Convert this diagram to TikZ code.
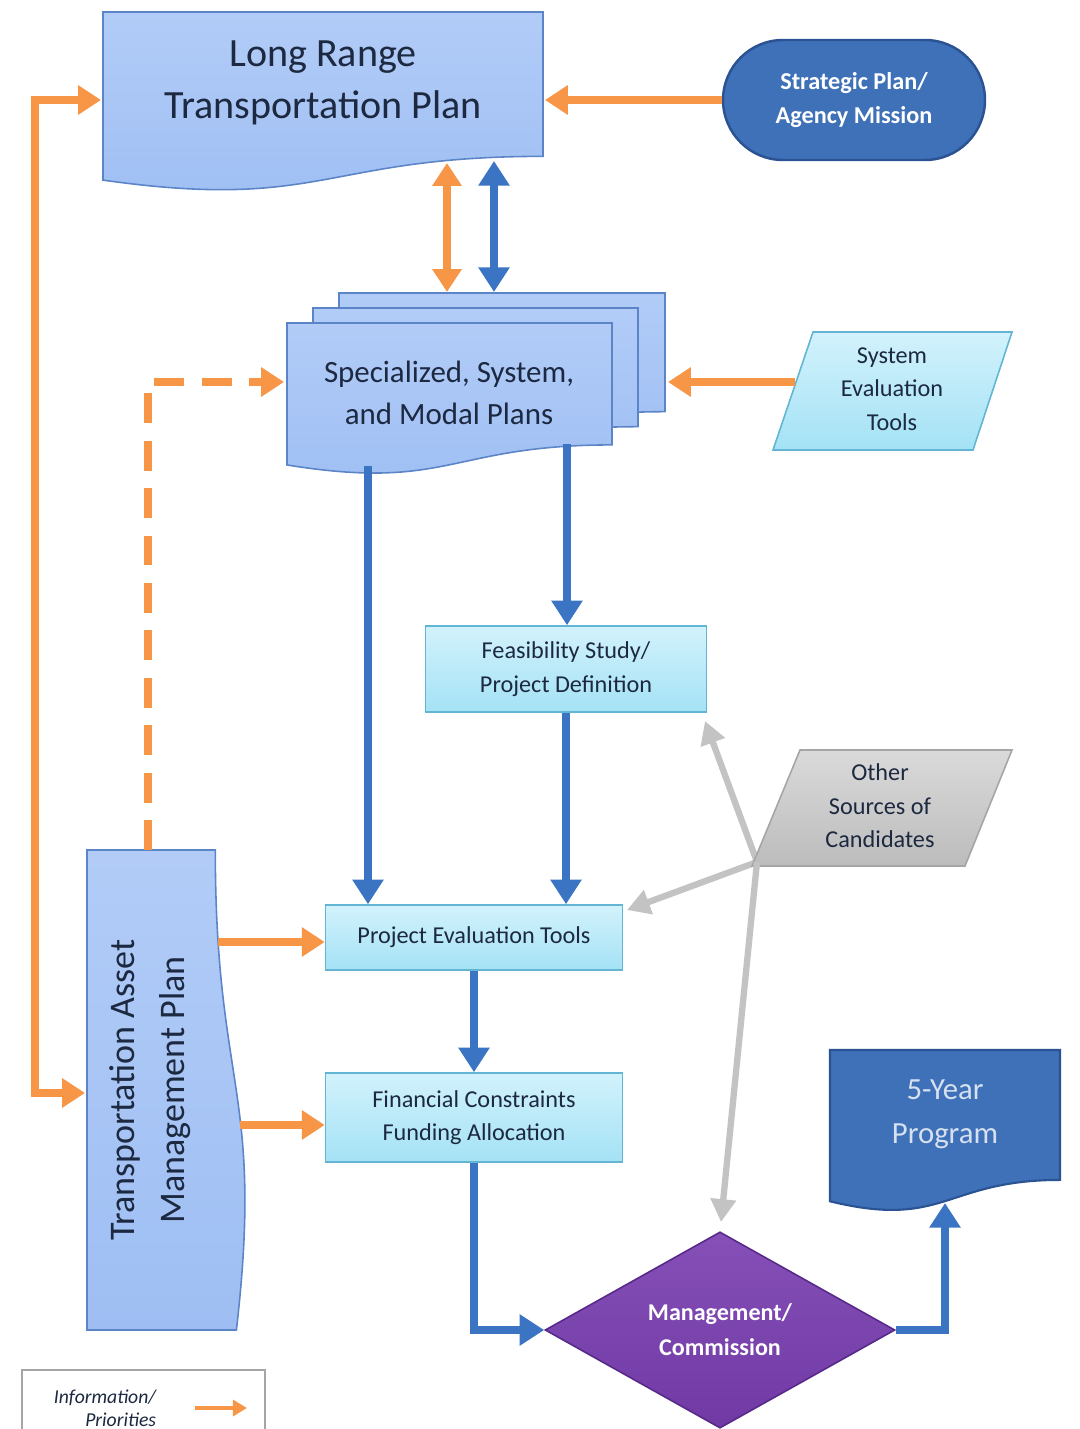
\documentclass[tikz,border=0pt]{standalone}
\usepackage{fontspec}
\setmainfont{Carlito}
\usetikzlibrary{arrows.meta,shapes.geometric}

\definecolor{orangeline}{HTML}{F79646}
\definecolor{blueline}{HTML}{3B74C2}
\definecolor{grayline}{HTML}{C3C3C3}
\definecolor{ltbluetop}{HTML}{B2CCF7}
\definecolor{ltbluebot}{HTML}{9EBEF3}
\definecolor{ltblueborder}{HTML}{5C85C8}
\definecolor{cyantop}{HTML}{D2F2FC}
\definecolor{cyanbot}{HTML}{A4E2F5}
\definecolor{cyanborder}{HTML}{62B5D3}
\definecolor{darkfill}{HTML}{3E71B8}
\definecolor{darkborder}{HTML}{2B5293}
\definecolor{purpletop}{HTML}{8650B8}
\definecolor{purplebot}{HTML}{7039A4}
\definecolor{purpleborder}{HTML}{57298A}
\definecolor{graytop}{HTML}{DADADA}
\definecolor{graybot}{HTML}{BCBCBC}
\definecolor{grayborder}{HTML}{A5A5A5}
\definecolor{textdark}{HTML}{1C2940}
\definecolor{textpale}{HTML}{D6E0F0}

% document shape: left x, top y, width, height, options
\newcommand\docshape[5]{%
  \path[#5] (#1,#2) -- ({#1+#3},#2) -- ({#1+#3},{#2+0.802*#4})
    .. controls ({#1+0.5*#3},{#2+0.802*#4}) and ({#1+0.5*#3},{#2+1.107*#4})
    .. (#1,{#2+0.934*#4}) -- cycle;}

\tikzset{
  plandoc/.style={draw=ltblueborder, line width=0.9pt, top color=ltbluetop, bottom color=ltbluebot},
  cyanbox/.style={draw=cyanborder, line width=0.9pt, top color=cyantop, bottom color=cyanbot,
    text=textdark, font=\fontsize{13.8}{19}\selectfont, align=center, inner sep=0pt},
  label/.style={text=textdark, align=center, inner sep=0pt},
  oarrow/.style={draw=orangeline, line width=4pt, >={Triangle[width=16pt,length=13pt]}},
  barrow/.style={draw=blueline, line width=4.5pt, >={Triangle[width=17pt,length=14pt]}},
  garrow/.style={draw=grayline, line width=3.6pt, >={Triangle[width=14pt,length=13pt]}},
}

\begin{document}
\begin{tikzpicture}[x=0.02cm, y=-0.02cm]
\useasboundingbox (0,0) rectangle (1079,1429);

% ---------- Long Range Transportation Plan ----------
\docshape{103}{12}{440}{180}{plandoc}
\node[label, font=\fontsize{22.8}{30}\selectfont] (lrtp) at (323,83) {Long Range\\Transportation Plan};
\coordinate (lrtp-e) at (545,100);
\coordinate (lrtp-w) at (101,100);
\coordinate (lrtp-so) at (447,163);
\coordinate (lrtp-sb) at (494,161);

% ---------- Strategic Plan / Agency Mission ----------
\node[draw=darkborder, line width=1.4pt, fill=darkfill, rounded corners=1.2cm,
      minimum width=5.24cm, minimum height=2.4cm, text=white, align=center,
      font=\bfseries\fontsize{13.8}{19}\selectfont] (strat) at (854,100)
      {Strategic Plan/\\Agency Mission};

% ---------- Specialized, System, and Modal Plans (stack) ----------
\docshape{339}{293}{326}{148}{plandoc}
\docshape{313}{308}{325}{148}{plandoc}
\docshape{287}{323}{325}{152}{plandoc}
\node[label, font=\fontsize{17.6}{23.5}\selectfont] (spec) at (449,393) {Specialized, System,\\and Modal Plans};
\coordinate (spec-no) at (447,292);
\coordinate (spec-nb) at (494,292);
\coordinate (spec-w) at (284,382);
\coordinate (spec-e) at (668,382);
\coordinate (spec-sa) at (368,466);
\coordinate (spec-sb) at (567,444);

% ---------- System Evaluation Tools ----------
\path[draw=cyanborder, line width=0.9pt, top color=cyantop, bottom color=cyanbot]
  (813,332) -- (1012,332) -- (973,450) -- (773,450) -- cycle;
\node[label, font=\fontsize{13.8}{19}\selectfont] (sysev) at (892,389) {System\\Evaluation\\Tools};
\coordinate (sysev-w) at (795,382);

% ---------- Feasibility, evaluation, funding ----------
\node[cyanbox, minimum width=5.62cm, minimum height=1.72cm] (feas) at (566,669)
  {Feasibility Study/\\Project Definition};
\node[cyanbox, minimum width=5.94cm, minimum height=1.3cm] (peval) at (474,937.5)
  {Project Evaluation Tools};
\node[cyanbox, minimum width=5.94cm, minimum height=1.78cm] (fin) at (474,1117.5)
  {Financial Constraints\\Funding Allocation};

% ---------- Other Sources of Candidates ----------
\coordinate (oth-hub) at (757,862);
\coordinate (feas-se) at (705,721);
\coordinate (peval-ne) at (627,910);
\draw[garrow, ->] (oth-hub) -- (feas-se);
\draw[garrow, ->] (oth-hub) -- (peval-ne);
\path[draw=grayborder, line width=0.9pt, top color=graytop, bottom color=graybot]
  (800,750) -- (1012,750) -- (965,866) -- (752,866) -- cycle;
\node[label, font=\fontsize{13.8}{19}\selectfont] (other) at (880,806) {Other\\Sources of\\Candidates};

% ---------- Transportation Asset Management Plan ----------
\path[plandoc] (87,850) -- (215.3,850) .. controls (215.3,1090) and (264.1,1090)
  .. (236.4,1330) -- (87,1330) -- cycle;
\node[label, rotate=90, font=\fontsize{20.5}{28.5}\selectfont] (tamp) at (150,1090)
  {Transportation Asset\\Management Plan};
\coordinate (tamp-n) at (148,850);
\coordinate (tamp-w) at (85,1093);
\coordinate (tamp-e1) at (218,942);
\coordinate (tamp-e2) at (240,1125);

% ---------- Management / Commission ----------
\node[diamond, draw=purpleborder, line width=0.9pt, top color=purpletop, bottom color=purplebot,
      minimum width=7cm, minimum height=3.9cm, inner sep=0pt, text=white, align=center,
      font=\bfseries\fontsize{13.7}{20}\selectfont] (mgmt) at (720,1330)
      {Management/\\Commission};
\coordinate (mgmt-n) at (721,1222);
\draw[garrow, ->] (oth-hub) -- (mgmt-n);

% ---------- 5-Year Program ----------
\docshape{830}{1050}{230}{162}{draw=darkborder, line width=1.2pt, fill=darkfill}
\node[text=textpale, align=center, inner sep=0pt, font=\fontsize{17.5}{25}\selectfont] (five)
  at (945,1114) {5-Year\\Program};
\coordinate (five-s) at (945,1203);

% ---------- orange information flows ----------
\draw[oarrow, ->] (strat.west) -- (lrtp-e);
\draw[oarrow, <->] (lrtp-so) -- (spec-no);
\draw[oarrow, ->] (sysev-w) -- (spec-e);
\draw[oarrow, <->] (lrtp-w) -| (35,600) |- (tamp-w);
\draw[oarrow, ->, line width=5pt, dash pattern=on 17pt off 10pt] (tamp-n) |- (spec-w);
\draw[oarrow, ->] (tamp-e1) -- (tamp-e1 -| peval.west);
\draw[oarrow, ->] (tamp-e2) -- (tamp-e2 -| fin.west);

% ---------- blue process flows ----------
\draw[barrow, <->] (lrtp-sb) -- (spec-nb);
\draw[barrow, ->] (spec-sb) -- (spec-sb |- feas.north);
\draw[barrow, ->] (spec-sa) -- (spec-sa |- peval.north);
\draw[barrow, ->] (feas.south) -- (feas.south |- peval.north);
\draw[barrow, ->] (peval.south) -- (fin.north);
\draw[barrow, ->] (fin.south) |- (mgmt.west);
\draw[barrow, ->] (mgmt.east) -| (five-s);

% ---------- legend ----------
\node[draw=grayborder, line width=0.6pt, fill=white, minimum width=4.86cm, minimum height=1.6cm,
      inner sep=0pt] (legend) at (143.5,1410) {};
\node[label, font=\itshape\fontsize{11.2}{13}\selectfont, align=right] (legtext) at (105,1408)
  {Information/\\\hspace*{1.2em}Priorities};
\coordinate (leg-a) at (195,1408);
\coordinate (leg-b) at (247,1408);
\draw[draw=orangeline, line width=2.6pt, -{Triangle[width=9pt,length=8pt]}] (leg-a) -- (leg-b);

\end{tikzpicture}
\end{document}
